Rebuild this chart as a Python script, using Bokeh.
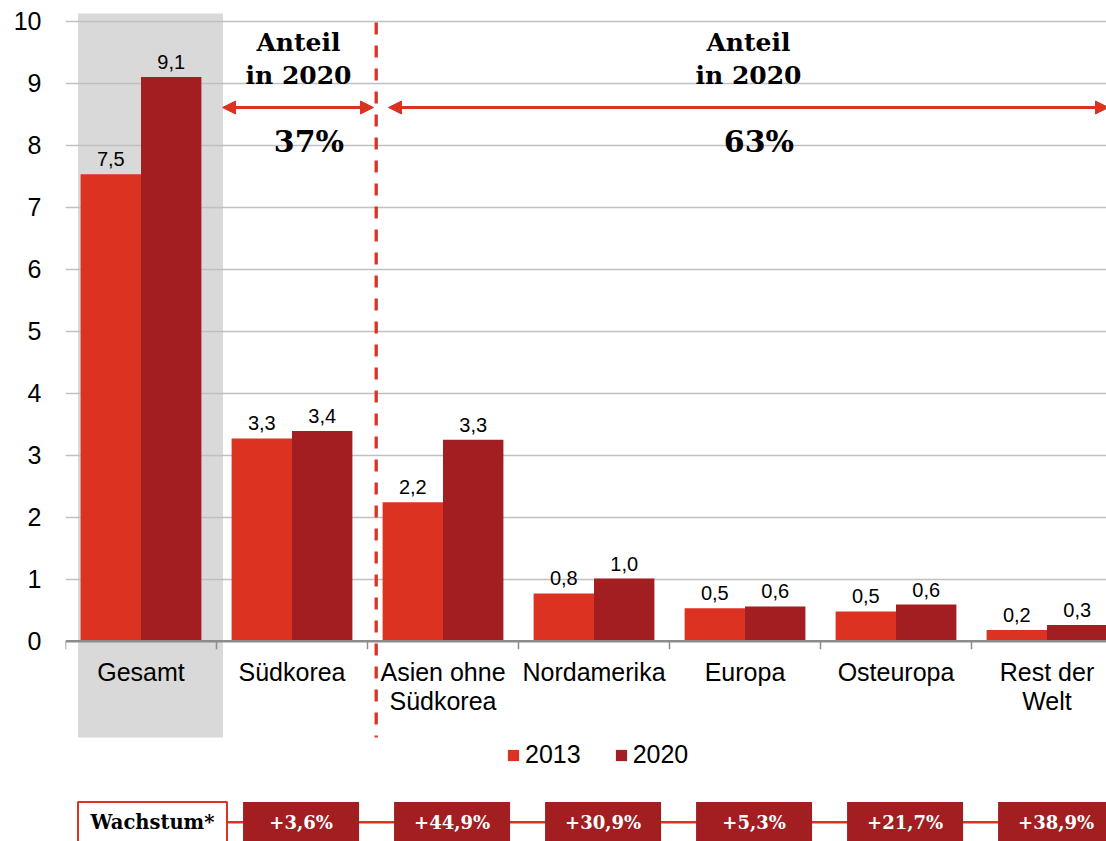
import numpy as np
from bokeh.plotting import figure
from bokeh.models import (Range1d, FixedTicker, Span, Arrow, NormalHead, Legend,
                          LegendItem, ColumnDataSource)
from bokeh.core.properties import value
from bokeh.embed import file_html
from bokeh.resources import INLINE

# ---------------- data ----------------
categories = ["Gesamt", "Südkorea", "Asien ohne\nSüdkorea", "Nordamerika",
              "Europa", "Osteuropa", "Rest der\nWelt"]
values_2013 = [7.53, 3.27, 2.24, 0.77, 0.53, 0.48, 0.18]
values_2020 = [9.10, 3.39, 3.25, 1.01, 0.56, 0.59, 0.26]
labels_2013 = ["7,5", "3,3", "2,2", "0,8", "0,5", "0,5", "0,2"]
labels_2020 = ["9,1", "3,4", "3,3", "1,0", "0,6", "0,6", "0,3"]
growth_labels = ["+3,6%", "+44,9%", "+30,9%", "+5,3%", "+21,7%", "+38,9%"]
share_left = "37%"
share_right = "63%"
y_ticks = list(range(0, 11))

# ---------------- style ----------------
RED = "#DC3222"
DARK = "#A21E21"
GRAY_BG = "#D9D9D9"
SANS = value("Liberation Sans")
SERIF = value("DejaVu Serif")

W, H = 1106, 841
LEFT = 65
PX = 151.0   # pixels per category
PY = 62.0    # pixels per y unit
PAGE_X0 = LEFT          # pixel x of frame left (x=0)
PAGE_Y0 = 640.7         # pixel y of value 0
PAGE_TOP = 0

def px(xp):
    return (xp - PAGE_X0) / PX

def py(yp):
    return (PAGE_Y0 - yp) / PY

x_end = (W - LEFT) / PX
y_top = py(PAGE_TOP)
y_bot = py(PAGE_TOP + H)

p = figure(width=W, height=H, output_backend="svg", toolbar_location=None,
           x_range=Range1d(0, x_end), y_range=Range1d(y_bot, y_top),
           min_border_left=LEFT, min_border_right=0,
           min_border_top=0, min_border_bottom=0)
p.outline_line_color = None
p.background_fill_color = "white"
p.border_fill_color = "white"
p.xaxis.visible = False
p.xgrid.visible = False

# y axis
p.yaxis.ticker = FixedTicker(ticks=y_ticks)
p.yaxis.axis_line_color = None
p.yaxis.major_tick_line_color = None
p.yaxis.minor_tick_line_color = None
p.yaxis.major_label_text_font = "Liberation Sans"
p.yaxis.major_label_text_font_size = "25px"
p.yaxis.major_label_text_color = "black"
p.yaxis.major_label_standoff = 18
p.ygrid.ticker = FixedTicker(ticks=y_ticks[1:])
p.ygrid.grid_line_color = "#C0C0C0"
p.ygrid.grid_line_width = 1.5

idx = np.arange(len(categories))

# gray highlight behind "Gesamt"
p.quad(left=[px(77.5)], right=[px(222.5)], top=[py(13)], bottom=[py(737)],
       fill_color=GRAY_BG, line_color=None, level="image")

src = ColumnDataSource(dict(
    x13=idx + 0.3, x20=idx + 0.7, v13=values_2013, v20=values_2020,
    l13=labels_2013, l20=labels_2020, xc=idx + 0.5, cat=categories))

r13 = p.vbar(x="x13", top="v13", width=0.4, bottom=0, source=src,
             fill_color=RED, line_color=None)
r20 = p.vbar(x="x20", top="v20", width=0.4, bottom=0, source=src,
             fill_color=DARK, line_color=None)

# value labels
for xcol, vcol, lcol in (("x13", "v13", "l13"), ("x20", "v20", "l20")):
    p.text(x=xcol, y=vcol, text=lcol, source=src, y_offset=-15,
           text_align="center", text_baseline="alphabetic",
           text_font=SANS, text_font_size="20px", text_color="black")

# x axis line and ticks
p.add_layout(Span(location=0, dimension="width", line_color="#8C8C8C",
                  line_width=2.5))
bounds = np.arange(len(categories) + 1)
p.segment(x0=bounds, y0=0, x1=bounds, y1=-8 / PY, line_color="#8C8C8C",
          line_width=1.5)

# category labels
p.text(x="xc", y=0, text="cat", source=src, y_offset=17, text_align="center",
       text_baseline="top", text_font=SANS, text_font_size="25px",
       text_color="black", text_line_height=1.03)

# dashed separator
p.segment(x0=[px(375.7)], y0=[py(22)], x1=[px(375.7)], y1=[py(737)],
          line_color=RED, line_width=3.3, line_dash="12 11")

# arrows
for xs, xe in ((222, 373), (388, 1108)):
    p.add_layout(Arrow(x_start=px(xs), y_start=py(107), x_end=px(xe), y_end=py(107),
                       line_color=RED, line_width=3,
                       start=NormalHead(size=13, fill_color=RED, line_color=RED),
                       end=NormalHead(size=13, fill_color=RED, line_color=RED)))

# share annotations
p.text(x=[px(298), px(748)], y=[py(58.5), py(58.5)],
       text=["Anteil\nin 2020", "Anteil\nin 2020"], text_align="center",
       text_baseline="middle", text_font=SERIF, text_font_style="bold",
       text_font_size="25px", text_color="black", text_line_height=1.15)
p.text(x=[px(308.5), px(758.5)], y=[py(141), py(141)],
       text=[share_left, share_right], text_align="center",
       text_baseline="middle", text_font=SERIF, text_font_style="bold",
       text_font_size="30px", text_color="black")

# legend
legend = Legend(items=[LegendItem(label="2013", renderers=[r13]),
                       LegendItem(label="2020", renderers=[r20])],
                orientation="horizontal", location=(441, 72),
                glyph_width=14, glyph_height=14, label_standoff=5, spacing=33,
                padding=0, margin=0, border_line_color=None,
                background_fill_alpha=0, label_text_font="Liberation Sans",
                label_text_font_size="25px", label_text_color="black")
p.add_layout(legend, "center")

# growth row
gy = py(821.5)
gh = 40 / PY
p.segment(x0=[px(227)], y0=[py(821.7)], x1=[px(1110)], y1=[py(821.7)],
          line_color=RED, line_width=2.5)
p.rect(x=[px(152)], y=[gy], width=149 / PX, height=gh, fill_color="white",
       line_color=RED, line_width=2)
p.text(x=[px(152)], y=[gy], text=["Wachstum*"], text_align="center",
       text_baseline="middle", text_font=SERIF, text_font_style="bold",
       text_font_size="19.5px", text_color="black")
gsrc = ColumnDataSource(dict(x=idx[1:] + 0.56, y=[gy] * len(growth_labels),
                             t=growth_labels))
p.rect(x="x", y="y", width=116 / PX, height=gh, source=gsrc,
       fill_color=DARK, line_color=None)
p.text(x="x", y="y", text="t", source=gsrc, text_align="center",
       text_baseline="middle", text_font=SERIF, text_font_style="bold",
       text_font_size="18px", text_color="white")

open("out.html", "w").write(file_html(p, INLINE))
